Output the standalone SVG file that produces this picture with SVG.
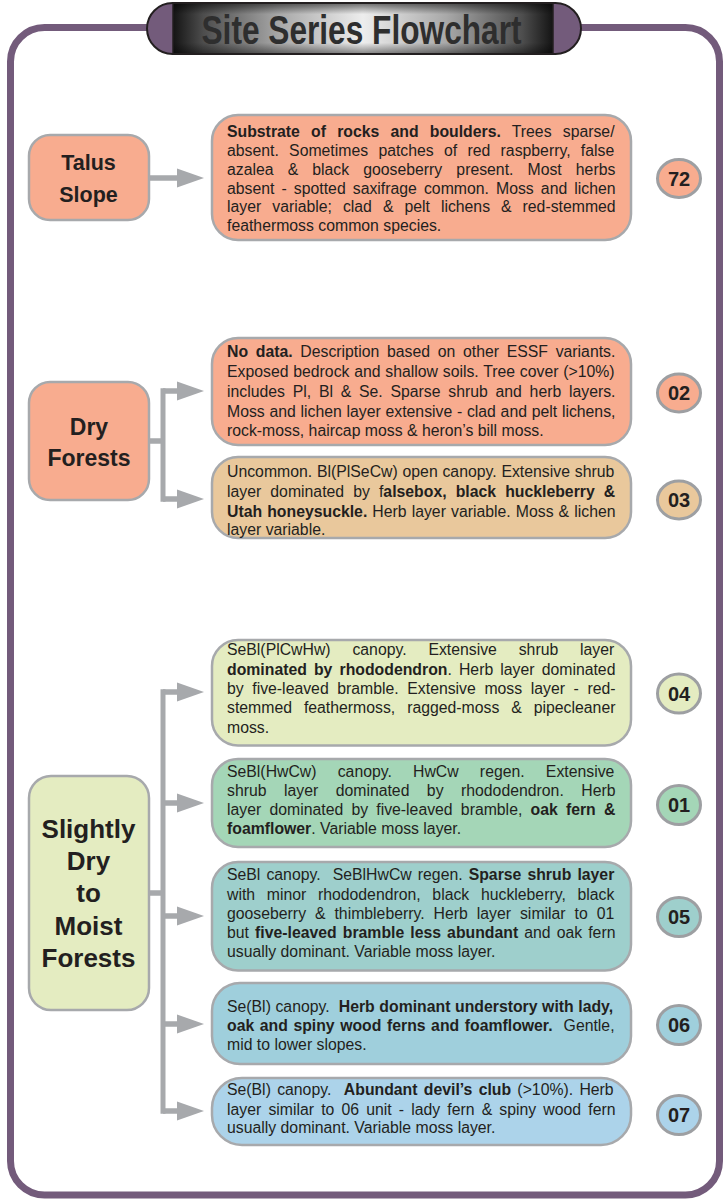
<svg xmlns="http://www.w3.org/2000/svg" width="725" height="1199" viewBox="0 0 725 1199">
  <style>
    .frame { fill: none; stroke: #735b7b; stroke-width: 7; }
    .box { stroke: #a7a9ac; stroke-width: 2.5; }
    .badge { stroke: #9d9fa2; stroke-width: 3; }
    .desc { font-family: "Liberation Sans", Arial, sans-serif; font-size: 15.8px; fill: #231f20; }
    .b { font-weight: bold; }
    .cat { font-family: "Liberation Sans", Arial, sans-serif; font-weight: bold; text-anchor: middle; fill: #231f20; }
    .num { font-family: "Liberation Sans", Arial, sans-serif; font-weight: bold; font-size: 20px; text-anchor: middle; fill: #231f20; }
    .title { font-family: "Liberation Sans", Arial, sans-serif; font-weight: bold; font-size: 40px; fill: #2e2e2e; }
    .conn { fill: #a7a9ac; }
    .salmon { fill: #f8ac8f; }
    .tan { fill: #e9c89c; }
    .lime { fill: #e4ecc1; }
    .mint { fill: #a4d6b7; }
    .teal { fill: #9ecfcc; }
    .aqua { fill: #9fcfdc; }
    .sky { fill: #acd3ea; }
  </style>
  <defs>
    <linearGradient id="metal" x1="0" y1="0" x2="1" y2="0">
      <stop offset="0" stop-color="#141414"/>
      <stop offset="0.08" stop-color="#4d4d4d"/>
      <stop offset="0.28" stop-color="#a8a8a8"/>
      <stop offset="0.5" stop-color="#ededed"/>
      <stop offset="0.72" stop-color="#a8a8a8"/>
      <stop offset="0.92" stop-color="#4d4d4d"/>
      <stop offset="1" stop-color="#141414"/>
    </linearGradient>
    <linearGradient id="metalShade" x1="0" y1="0" x2="0" y2="1">
      <stop offset="0" stop-color="#000000" stop-opacity="0.55"/>
      <stop offset="0.22" stop-color="#000000" stop-opacity="0"/>
      <stop offset="0.78" stop-color="#000000" stop-opacity="0"/>
      <stop offset="1" stop-color="#000000" stop-opacity="0.45"/>
    </linearGradient>
    <g id="arrowR">
      <rect x="0" y="-2.75" width="17" height="5.5"/>
      <polygon points="14,-9.5 41,0 14,9.5"/>
    </g>
  </defs>

  <rect width="725" height="1199" fill="#ffffff"/>

  <!-- outer frame -->
  <rect class="frame" x="10.5" y="27.5" width="709" height="1167.5" rx="34"/>

  <!-- title banner -->
  <g id="title">
    <rect x="147" y="3" width="434" height="51" rx="25.5" fill="#735b7b"/>
    <rect x="173" y="3" width="380" height="51" fill="url(#metal)"/>
    <rect x="173" y="3" width="380" height="51" fill="url(#metalShade)"/>
    <line x1="173" y1="3" x2="173" y2="54" stroke="#231f20" stroke-width="1.5"/>
    <line x1="553" y1="3" x2="553" y2="54" stroke="#231f20" stroke-width="1.5"/>
    <rect x="147" y="3" width="434" height="51" rx="25.5" fill="none" stroke="#231f20" stroke-width="2"/>
    <text class="title" x="201.5" y="43.5" textLength="320" lengthAdjust="spacingAndGlyphs">Site Series Flowchart</text>
  </g>

  <!-- connectors -->
  <g id="connectors" class="conn">
    <rect x="149" y="175.25" width="31" height="5.5"/>
    <polygon points="177,168.5 204,178 177,187.5"/>

    <rect x="149" y="438.25" width="14" height="5.5"/>
    <rect x="160.5" y="388.25" width="5" height="113.5"/>
    <use href="#arrowR" x="163" y="391"/>
    <use href="#arrowR" x="163" y="499"/>

    <rect x="149" y="890.25" width="14" height="5.5"/>
    <rect x="160.5" y="689.25" width="5" height="424.5"/>
    <use href="#arrowR" x="163" y="692"/>
    <use href="#arrowR" x="163" y="803"/>
    <use href="#arrowR" x="163" y="916"/>
    <use href="#arrowR" x="163" y="1024"/>
    <use href="#arrowR" x="163" y="1111"/>
  </g>

  <!-- category nodes -->
  <g id="talus-slope">
    <rect class="box salmon" x="29" y="135" width="120" height="85" rx="21"/>
    <text class="cat" font-size="21.5" x="88.5" y="170">Talus</text>
    <text class="cat" font-size="21.5" x="88.5" y="202">Slope</text>
  </g>
  <g id="dry-forests">
    <rect class="box salmon" x="29" y="382" width="120" height="118" rx="21"/>
    <text class="cat" font-size="23" x="89" y="435">Dry</text>
    <text class="cat" font-size="23" x="89" y="466">Forests</text>
  </g>
  <g id="moist-forests">
    <rect class="box lime" x="29" y="776" width="120" height="234" rx="22"/>
    <text class="cat" font-size="26" x="88.5" y="838">Slightly</text>
    <text class="cat" font-size="26" x="88.5" y="870">Dry</text>
    <text class="cat" font-size="26" x="88.5" y="902">to</text>
    <text class="cat" font-size="26" x="88.5" y="935">Moist</text>
    <text class="cat" font-size="26" x="88.5" y="967">Forests</text>
  </g>

  <!-- site series 72 -->
  <g id="unit-72">
    <rect class="box salmon" x="212" y="115" width="419" height="125" rx="26"/>
    <text class="desc" x="227" y="137" word-spacing="6.8"><tspan class="b">Substrate of rocks and boulders.</tspan> Trees sparse/</text>
    <text class="desc" x="227" y="156" word-spacing="5.9">absent. Sometimes patches of red raspberry, false</text>
    <text class="desc" x="227" y="174.5" word-spacing="9.7">azalea &amp; black gooseberry present. Most herbs</text>
    <text class="desc" x="227" y="193.5" word-spacing="2.7">absent - spotted saxifrage common. Moss and lichen</text>
    <text class="desc" x="227" y="212" word-spacing="6.6">layer variable; clad &amp; pelt lichens &amp; red-stemmed</text>
    <text class="desc" x="227" y="231">feathermoss common species.</text>
    <ellipse class="badge salmon" cx="679" cy="178.5" rx="21.5" ry="19"/>
    <text class="num" x="679" y="185.5">72</text>
  </g>

  <!-- site series 02 -->
  <g id="unit-02">
    <rect class="box salmon" x="212" y="338" width="419" height="107" rx="26"/>
    <text class="desc" x="227" y="357" word-spacing="3.3"><tspan class="b">No data.</tspan> Description based on other ESSF variants.</text>
    <text class="desc" x="227" y="377" word-spacing="0.37">Exposed bedrock and shallow soils. Tree cover (&gt;10%)</text>
    <text class="desc" x="227" y="397" word-spacing="3.36">includes Pl, Bl &amp; Se. Sparse shrub and herb layers.</text>
    <text class="desc" x="227" y="416.5" word-spacing="0.33">Moss and lichen layer extensive - clad and pelt lichens,</text>
    <text class="desc" x="227" y="436">rock-moss, haircap moss &amp; heron’s bill moss.</text>
    <ellipse class="badge salmon" cx="679" cy="393" rx="21.5" ry="19"/>
    <text class="num" x="679" y="400">02</text>
  </g>

  <!-- site series 03 -->
  <g id="unit-03">
    <rect class="box tan" x="212" y="457" width="419" height="81" rx="26"/>
    <text class="desc" x="227" y="477" word-spacing="0.42">Uncommon. Bl(PlSeCw) open canopy. Extensive shrub</text>
    <text class="desc" x="227" y="497" word-spacing="4.7">layer dominated by f<tspan class="b">alsebox, black huckleberry &amp;</tspan></text>
    <text class="desc" x="227" y="516.5" word-spacing="0.69"><tspan class="b">Utah honeysuckle.</tspan> Herb layer variable. Moss &amp; lichen</text>
    <text class="desc" x="227" y="535">layer variable.</text>
    <ellipse class="badge tan" cx="679" cy="500" rx="21.5" ry="19"/>
    <text class="num" x="679" y="507">03</text>
  </g>

  <!-- site series 04 -->
  <g id="unit-04">
    <rect class="box lime" x="212" y="640" width="419" height="105.5" rx="26"/>
    <text class="desc" x="227" y="655" word-spacing="17.45">SeBl(PlCwHw) canopy. Extensive shrub layer</text>
    <text class="desc" x="227" y="674.5" word-spacing="2.72"><tspan class="b">dominated by rhododendron</tspan>. Herb layer dominated</text>
    <text class="desc" x="227" y="694" word-spacing="4.2">by five-leaved bramble. Extensive moss layer - red-</text>
    <text class="desc" x="227" y="713" word-spacing="7.55">stemmed feathermoss, ragged-moss &amp; pipecleaner</text>
    <text class="desc" x="227" y="732.5">moss.</text>
    <ellipse class="badge lime" cx="679" cy="693.5" rx="21.5" ry="19.5"/>
    <text class="num" x="679" y="700.5">04</text>
  </g>

  <!-- site series 01 -->
  <g id="unit-01">
    <rect class="box mint" x="212" y="759" width="419" height="88" rx="26"/>
    <text class="desc" x="227" y="777" word-spacing="16.8">SeBl(HwCw) canopy. HwCw regen. Extensive</text>
    <text class="desc" x="227" y="796" word-spacing="13.06">shrub layer dominated by rhododendron. Herb</text>
    <text class="desc" x="227" y="815" word-spacing="3.8">layer dominated by five-leaved bramble, <tspan class="b">oak fern &amp;</tspan></text>
    <text class="desc" x="227" y="834"><tspan class="b">foamflower</tspan>. Variable moss layer.</text>
    <ellipse class="badge mint" cx="679" cy="805" rx="21.5" ry="19.5"/>
    <text class="num" x="679" y="812">01</text>
  </g>

  <!-- site series 05 -->
  <g id="unit-05">
    <rect class="box teal" x="212" y="862" width="419" height="108.5" rx="26"/>
    <text class="desc" x="227" y="880" word-spacing="1.68" xml:space="preserve">SeBl canopy.  SeBlHwCw regen. <tspan class="b">Sparse shrub layer</tspan></text>
    <text class="desc" x="227" y="899.5" word-spacing="7.28">with minor rhododendron, black huckleberry, black</text>
    <text class="desc" x="227" y="918.5" word-spacing="4.57">gooseberry &amp; thimbleberry. Herb layer similar to 01</text>
    <text class="desc" x="227" y="938" word-spacing="1.68">but <tspan class="b">five-leaved bramble less abundant</tspan> and oak fern</text>
    <text class="desc" x="227" y="957">usually dominant. Variable moss layer.</text>
    <ellipse class="badge teal" cx="679" cy="917" rx="21.5" ry="19.5"/>
    <text class="num" x="679" y="924">05</text>
  </g>

  <!-- site series 06 -->
  <g id="unit-06">
    <rect class="box aqua" x="212" y="983" width="419" height="81" rx="28"/>
    <text class="desc" x="227" y="1012" word-spacing="0.19" xml:space="preserve">Se(Bl) canopy.  <tspan class="b">Herb dominant understory with lady,</tspan></text>
    <text class="desc" x="227" y="1031" word-spacing="1.15" xml:space="preserve"><tspan class="b">oak and spiny wood ferns and foamflower.</tspan>  Gentle,</text>
    <text class="desc" x="227" y="1049.5">mid to lower slopes.</text>
    <ellipse class="badge aqua" cx="679" cy="1025" rx="21.5" ry="19.5"/>
    <text class="num" x="679" y="1032">06</text>
  </g>

  <!-- site series 07 -->
  <g id="unit-07">
    <rect class="box sky" x="212" y="1078" width="419" height="67" rx="30"/>
    <text class="desc" x="227" y="1095" word-spacing="1.87" xml:space="preserve">Se(Bl) canopy.  <tspan class="b">Abundant devil’s club</tspan> (&gt;10%). Herb</text>
    <text class="desc" x="227" y="1114.5" word-spacing="2.75">layer similar to 06 unit - lady fern &amp; spiny wood fern</text>
    <text class="desc" x="227" y="1133">usually dominant. Variable moss layer.</text>
    <ellipse class="badge sky" cx="679" cy="1115" rx="21.5" ry="19.5"/>
    <text class="num" x="679" y="1122">07</text>
  </g>
</svg>
